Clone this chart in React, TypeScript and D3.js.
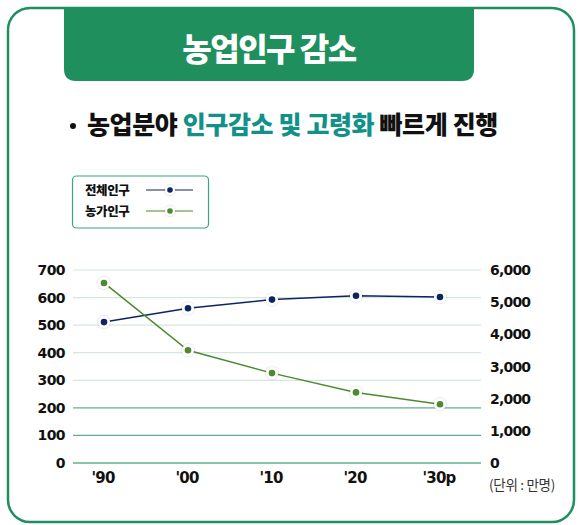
import * as d3 from 'd3'

const years = ["'90", "'00", "'10", "'20", "'30p"]
const totalPop = [4380, 4810, 5080, 5200, 5160]
const farmPop = [653, 409, 326, 256, 213]
const leftTicks = [0, 100, 200, 300, 400, 500, 600, 700]
const rightTicks = [0, 1000, 2000, 3000, 4000, 5000, 6000]
const legendItems = [
  { label: '전체인구', color: '#0c2461' },
  { label: '농가인구', color: '#4d8a2e' },
]

const W = 578
const H = 525
const green = '#1f8f5e'
const teal = '#139189'
const font = "'Noto Sans CJK KR', sans-serif"
const numFont = "'DejaVu Sans', sans-serif"

export default function App() {
  const x = d3.scalePoint<string>().domain(years).range([104, 440])
  const yL = d3.scaleLinear().domain([0, 700]).range([463, 270])
  const yR = d3.scaleLinear().domain([0, 6000]).range([463, 270])

  const lineL = d3.line<number>().x((_d, i) => x(years[i])!).y(d => yL(d))
  const lineR = d3.line<number>().x((_d, i) => x(years[i])!).y(d => yR(d))

  const series = [
    { values: totalPop, path: lineR(totalPop)!, y: yR, color: legendItems[0].color },
    { values: farmPop, path: lineL(farmPop)!, y: yL, color: legendItems[1].color },
  ]

  return (
    <svg width={W} height={H} style={{ position: 'absolute', left: 0, top: 0 }}>
      <defs>
        <filter id="sh" x="-50%" y="-50%" width="200%" height="200%">
          <feDropShadow dx="0" dy="0" stdDeviation="1" floodColor="#000" floodOpacity="0.25" />
        </filter>
      </defs>
      <rect width={W} height={H} fill="#fff" />
      {/* outer frame */}
      <rect x={8} y={8} width={566} height={514} rx={22} fill="none" stroke={green} strokeWidth={2.5} />
      {/* header tab */}
      <path
        d={`M64,8 H474 V69 Q474,81 462,81 H76 Q64,81 64,69 Z`}
        fill={green}
      />
      <text x={269} y={61} textAnchor="middle" fill="#fff" fontFamily={font} fontWeight={900} fontSize={32} letterSpacing={-1.5}>
        농업인구 감소
      </text>

      {/* subtitle */}
      <circle cx={73} cy={126} r={3} fill="#111" />
      <text x={87} y={134} fontFamily={font} fontWeight={900} fontSize={25} letterSpacing={-0.4} fill="#111">
        농업분야 <tspan fill={teal}>인구감소 및 고령화</tspan> 빠르게 진행
      </text>

      {/* legend */}
      <rect x={72.5} y={176} width={136} height={52} rx={4} fill="#fff" stroke="#3aa57a" strokeWidth={1.2} />
      {legendItems.map((d, i) => {
        const cy = 190 + i * 21
        return (
          <g key={d.label}>
            <text x={85} y={cy + 4.5} fontFamily={font} fontWeight={900} fontSize={12.5} letterSpacing={-0.4} fill="#111">
              {d.label}
            </text>
            <line x1={146} x2={193} y1={cy} y2={cy} stroke={d.color} strokeWidth={1.2} />
            <circle cx={170} cy={cy} r={5} fill="#fff" filter="url(#sh)" />
            <circle cx={170} cy={cy} r={2.8} fill={d.color} />
          </g>
        )
      })}

      {/* gridlines */}
      {leftTicks.map(t => (
        <line
          key={t}
          x1={73}
          x2={481}
          y1={yL(t)}
          y2={yL(t)}
          stroke={t <= 200 ? '#5fb08c' : '#d3e9df'}
          strokeWidth={t <= 200 ? 1.3 : 1.2}
        />
      ))}

      {/* left axis */}
      {leftTicks.map(t => (
        <text key={t} x={65} y={yL(t) + 5} textAnchor="end" fontFamily={numFont} fontWeight={700} fontSize={14} letterSpacing={-0.6} fill="#111">
          {t}
        </text>
      ))}
      {/* right axis */}
      {rightTicks.map(t => (
        <text key={t} x={490} y={yR(t) + 5} fontFamily={numFont} fontWeight={700} fontSize={14} letterSpacing={-0.8} fill="#111">
          {d3.format(',')(t)}
        </text>
      ))}
      {/* x axis */}
      {years.map(y => (
        <text key={y} x={x(y)! - 1} y={483} textAnchor="middle" fontFamily={numFont} fontWeight={700} fontSize={15} letterSpacing={-0.8} fill="#111">
          {y}
        </text>
      ))}
      <text x={489} y={490} fontFamily={font} fontSize={13.5} letterSpacing={-0.3} fill="#333">
        (단위 : 만명)
      </text>

      {/* lines */}
      {series.map((s, i) => (
        <g key={i}>
          <path d={s.path} fill="none" stroke={s.color} strokeWidth={1.5} />
          {s.values.map((v, j) => (
            <g key={j}>
              <circle cx={x(years[j])} cy={s.y(v)} r={6} fill="#fff" filter="url(#sh)" />
              <circle cx={x(years[j])} cy={s.y(v)} r={3.3} fill={s.color} />
            </g>
          ))}
        </g>
      ))}
    </svg>
  )
}
